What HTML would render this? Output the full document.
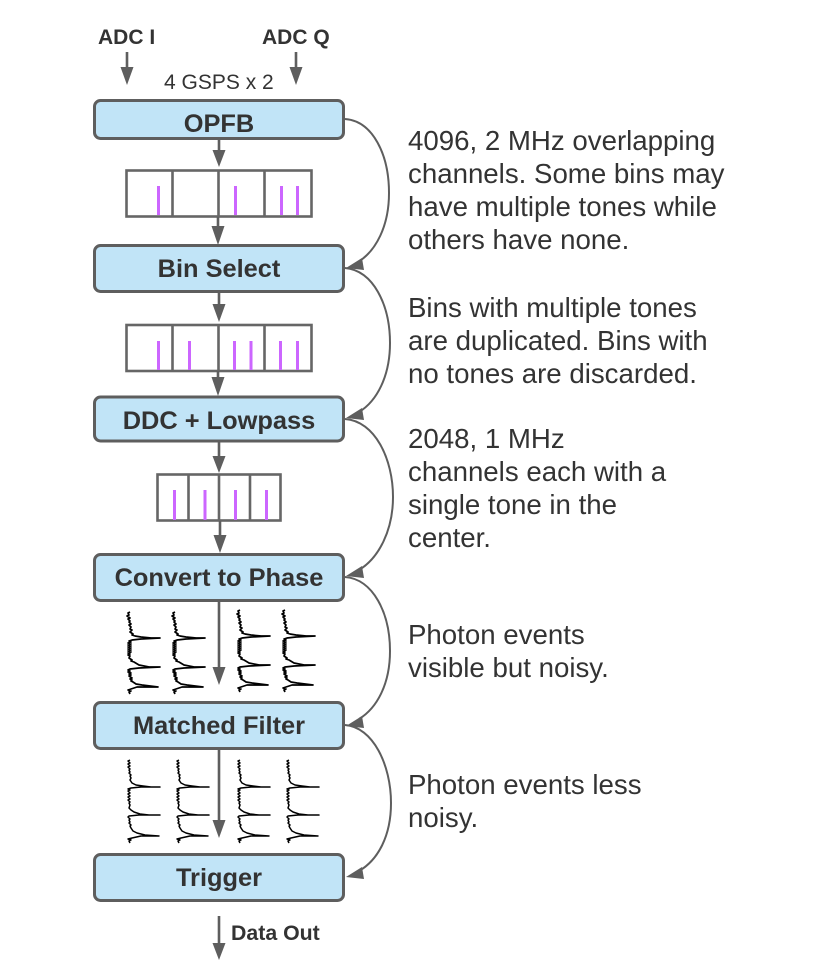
<!DOCTYPE html>
<html><head><meta charset="utf-8"><style>
html,body{margin:0;padding:0;background:#fff;width:830px;height:979px;overflow:hidden}
svg{display:block}
text{font-family:"Liberation Sans",sans-serif;fill:#333;}
.b{font-weight:bold;font-size:25.4px;text-anchor:middle}
.t{font-size:27.65px}
.s{font-size:21px}
.box{fill:#c1e4f7;stroke:#5e5e5e;stroke-width:3}
.g{fill:#fff;stroke:#666;stroke-width:2.6}
.l{stroke:#5e5e5e;stroke-width:2.6;fill:none}
.c{stroke:#5e5e5e;stroke-width:2;fill:none}
.d{stroke:#666;stroke-width:2.6;fill:none}
.a{fill:#5e5e5e}
.p{stroke:#cc66ff;stroke-width:3}
.w{stroke:#000;stroke-width:1.7;fill:none;stroke-linejoin:round}
.x{stroke:#000;stroke-width:1.5;fill:none;stroke-linejoin:round}
</style></head><body>
<svg width="830" height="979" viewBox="0 0 830 979" xmlns="http://www.w3.org/2000/svg">
<defs>
<path id="n" class="w" d="M3 0L1 1L2 3L0 4L3 6L1 7L3 9L2 10L4 12L2 13L4 15L3 17L5 18L3 20L6 22L5 23L8 24L14 25L24 26L33 26L14 27L5 28L2 29L4 30L1 31L4 32L1 33L4 34L1 35L4 36L1 37L4 38L1 39L4 40L1 41L3 42L1 43L3 44L2 46L5 48L4 49L7 50L12 53L22 55L33 55L12 56L3 57L1 58L3 59L1 60L4 61L2 62L4 63L2 64L5 66L3 67L5 68L4 69L6 70L9 72L15 73L31 75L10 75L4 77L1 78L4 79L2 80L3 82"/>
<path id="s" class="x" d="M3 0L1 1L3 3L1 4L3 6L1 7L3 9L2 10L3 12L2 13L4 15L3 16L4 18L3 20L5 23L9 25L16 26L24 27L33 27L14 27L4 28L1 29L3 30L1 31L3 33L1 34L3 36L1 37L3 39L1 40L3 42L2 43L3 45L2 48L4 50L7 52L13 54L22 55L33 55L12 55L2 56L1 57L3 59L2 60L3 62L2 63L4 65L3 66L4 68L6 71L10 73L18 75L32 76L14 76L5 78L1 79L4 80L2 81L3 83"/>
</defs>

<!-- grids -->
<rect class="g" x="126.500" y="170.500" width="185" height="46"/>
<path class="d" d="M172.500 170V217M218.500 170V217M264.500 170V217"/>
<path class="p" d="M158.500 186V215M235.500 186V215M281.500 186V215M297.500 186V215"/>

<rect class="g" x="126.500" y="325" width="185" height="46"/>
<path class="d" d="M172.500 325V371M218.500 325V371M264.500 325V371"/>
<path class="p" d="M158.500 341V370M189.500 341V370M234.500 341V370M251 341V370M280.500 341V370M297.500 341V370"/>

<rect class="g" x="157.500" y="474.500" width="123" height="46"/>
<path class="d" d="M188.500 474V521M219 474V521M250 474V521"/>
<path class="p" d="M174.500 490V520M205 490V520M235.500 490V520M266.500 490V520"/>

<!-- vertical arrows -->
<path class="l" d="M127 52V70M296 52V70M219 139V156M218 217V232M219 292V309M218 371V383M219 441V458M220 521V538M219 600V668M219 748V822M219 916V945"/>
<path class="a" d="M120.500 67H133.500L127 85ZM289.500 67H302.500L296 85ZM212.500 150H225.500L219 167ZM211.500 226H224.500L218 245ZM212.500 304H225.500L219 322ZM211.500 377H224.500L218 396ZM212.500 456H225.500L219 473ZM213.500 535H226.500L220 553ZM212.500 667H225.500L219 685ZM212.500 820H225.500L219 838ZM212.500 943H225.500L219 960Z"/>

<!-- waveforms -->
<use href="#n" x="127" y="612"/><use href="#n" x="172" y="612"/><use href="#n" x="237" y="610"/><use href="#n" x="282" y="610"/>
<use href="#s" x="127" y="760"/><use href="#s" x="176" y="760"/><use href="#s" x="237" y="760"/><use href="#s" x="286" y="760"/>

<!-- boxes -->
<rect class="box" x="94.500" y="100.500" width="249" height="38" rx="6"/>
<rect class="box" x="94.500" y="245.500" width="249" height="46" rx="6"/>
<rect class="box" x="94.500" y="397" width="249" height="44" rx="6"/>
<rect class="box" x="94.500" y="554.500" width="249" height="46" rx="6"/>
<rect class="box" x="94.500" y="702.500" width="249" height="46" rx="6"/>
<rect class="box" x="94.500" y="854.500" width="249" height="46" rx="6"/>

<!-- curves -->
<path class="c" d="M345 119C373 121 389 155 389 193C389 226 376 251 358 262"/>
<path class="c" d="M345 268C373 270 390 305 390 343C390 376 377 401 359 412"/>
<path class="c" d="M345 419C375 421 393 459 393 497C393 530 379 558 359 570"/>
<path class="c" d="M345 577C373 579 390 613 390 651C390 684 377 708 359 719"/>
<path class="c" d="M345 725C373 727 391 765 391 803C391 836 378 860 359 871"/>
<path class="a" d="M346 268L362 258L364 270ZM346 418L362 408L364 420ZM346 576L362 566L364 578ZM346 726L362 716L364 728ZM346 877L362 867L364 879Z"/>

<!-- labels -->
<text x="98" y="44" font-weight="bold" class="s">ADC I</text>
<text x="262" y="44" font-weight="bold" class="s">ADC Q</text>
<text x="164" y="89" class="s">4 GSPS x 2</text>
<text x="219" y="132" class="b">OPFB</text>
<text x="219" y="277" class="b">Bin Select</text>
<text x="219" y="429" class="b">DDC + Lowpass</text>
<text x="219" y="586" class="b">Convert to Phase</text>
<text x="219" y="734" class="b">Matched Filter</text>
<text x="219" y="886" class="b">Trigger</text>
<text x="231" y="940" font-weight="bold" font-size="21.300">Data Out</text>

<text x="408" y="150" class="t">4096, 2 MHz overlapping</text>
<text x="408" y="183" class="t">channels. Some bins may</text>
<text x="408" y="216" class="t">have multiple tones while</text>
<text x="408" y="249" class="t">others have none.</text>
<text x="408" y="317" class="t">Bins with multiple tones</text>
<text x="408" y="350" class="t">are duplicated. Bins with</text>
<text x="408" y="383" class="t">no tones are discarded.</text>
<text x="408" y="448" class="t">2048, 1 MHz</text>
<text x="408" y="481" class="t">channels each with a</text>
<text x="408" y="514" class="t">single tone in the</text>
<text x="408" y="547" class="t">center.</text>
<text x="408" y="644" class="t">Photon events</text>
<text x="408" y="677" class="t">visible but noisy.</text>
<text x="408" y="794" class="t">Photon events less</text>
<text x="408" y="827" class="t">noisy.</text>
</svg>
</body></html>
